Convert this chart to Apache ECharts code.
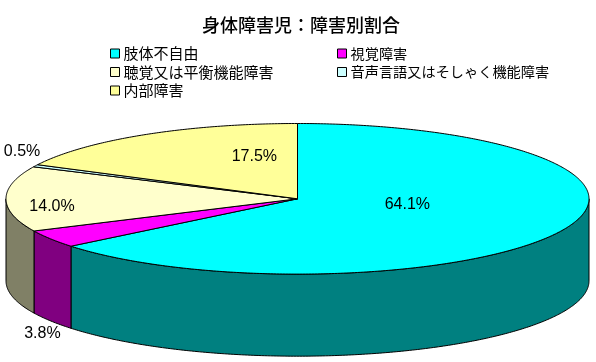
<!DOCTYPE html>
<html>
<head>
<meta charset="utf-8">
<style>
  html, body { margin: 0; padding: 0; background: #fff; }
  #chart { width: 596px; height: 362px; }
</style>
<script src="https://cdn.jsdelivr.net/npm/echarts@6/dist/echarts.min.js"></script>
</head>
<body>
<div id="chart"></div>
<script>
var categories = ['肢体不自由', '視覚障害', '聴覚又は平衡機能障害', '音声言語又はそしゃく機能障害', '内部障害'];
var values = [64.1, 3.8, 14.0, 0.5, 17.5];
var topColors = ['#00ffff', '#ff00ff', '#ffffcc', '#ccffff', '#ffff99'];
var wallColors = ['#008080', '#800080', '#808066', '#668080', '#808050'];

// 3d look: y axis unit = ellipse ry, depth in the same unit
var depth = 1.09;
// label anchors in axis units, same order as values
var labelAnchors = [[0.377, -0.083], [-0.875, -1.793], [-0.842, -0.103], [-0.945, 0.63], [-0.148, 0.565]];

var total = values.reduce(function (a, b) { return a + b; }, 0);

function angleRange(index) {
  var before = 0;
  for (var i = 0; i < index; i++) before += values[i];
  return [before / total * Math.PI * 2, (before + values[index]) / total * Math.PI * 2];
}

function arc(api, from, to, offset) {
  var pts = [];
  var steps = Math.max(2, Math.ceil((to - from) / 0.01));
  for (var i = 0; i <= steps; i++) {
    var a = from + (to - from) * i / steps;
    pts.push(api.coord([Math.sin(a), Math.cos(a) - offset]));
  }
  return pts;
}

function renderSlice(params, api) {
  var i = params.seriesIndex;
  var range = angleRange(i);
  var children = [];
  var lineStyle = { stroke: '#000', lineWidth: 1 };

  // side wall, only the front half of the cake can be seen
  var wallFrom = Math.max(range[0], Math.PI / 2);
  var wallTo = Math.min(range[1], Math.PI * 3 / 2);
  if (wallTo > wallFrom) {
    var wallPts = arc(api, wallFrom, wallTo, 0).concat(arc(api, wallFrom, wallTo, depth).reverse());
    children.push({
      type: 'polygon',
      shape: { points: wallPts },
      style: Object.assign({ fill: wallColors[i] }, lineStyle)
    });
  }

  var topPts = [api.coord([0, 0])].concat(arc(api, range[0], range[1], 0));
  children.push({
    type: 'polygon',
    shape: { points: topPts },
    style: Object.assign({ fill: topColors[i] }, lineStyle)
  });

  var p = api.coord(labelAnchors[i]);
  children.push({
    type: 'text',
    z2: 10,
    x: p[0],
    y: p[1],
    style: {
      text: values[i].toFixed(1) + '%',
      fill: '#000',
      font: '16px "Liberation Sans", Arial, sans-serif',
      align: 'center',
      verticalAlign: 'middle'
    }
  });
  return { type: 'group', children: children };
}

var series = categories.map(function (name, i) {
  return {
    type: 'custom',
    name: name,
    coordinateSystem: 'cartesian2d',
    silent: true,
    clip: false,
    itemStyle: { color: topColors[i] },
    renderItem: renderSlice,
    encode: { x: 0, y: 1 },
    data: [[0, 0, values[i]]]
  };
});

function legendColumn(names, left, fontSize) {
  return {
    orient: 'vertical',
    left: left,
    top: 46,
    align: 'left',
    padding: 0,
    itemGap: 3.5,
    itemWidth: 9,
    itemHeight: 9,
    icon: 'rect',
    selectedMode: false,
    itemStyle: { borderColor: '#000', borderWidth: 1 },
    textStyle: { fontFamily: '"Noto Sans CJK JP"', fontSize: fontSize, color: '#000', padding: [0, 0, 0, -1], lineHeight: 15 },
    data: names
  };
}

var chart = echarts.init(document.getElementById('chart'), null, { renderer: 'canvas' });
chart.setOption({
  backgroundColor: '#fff',
  animation: false,
  title: {
    text: '身体障害児：障害別割合',
    left: 202,
    top: 16,
    padding: 0,
    textStyle: { fontFamily: '"Noto Sans CJK JP"', fontSize: 18, fontWeight: 500, color: '#000' }
  },
  legend: [
    legendColumn([categories[0], categories[2], categories[4]], 110, 15),
    legendColumn([categories[1], categories[3]], 337, 14.2)
  ],
  grid: { left: 6, width: 583, top: 123.5, height: 75.3 * (2 + depth) },
  xAxis: { type: 'value', min: -1, max: 1, show: false },
  yAxis: { type: 'value', min: -1 - depth, max: 1, show: false },
  series: series
});
</script>
</body>
</html>
